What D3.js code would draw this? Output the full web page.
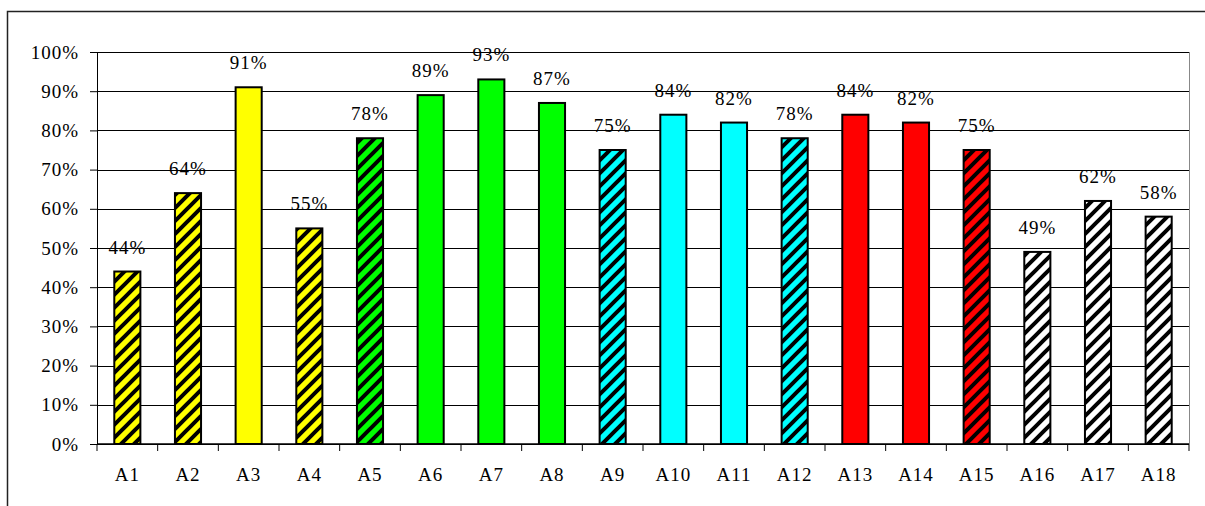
<!DOCTYPE html>
<html>
<head>
<meta charset="utf-8">
<script src="https://cdn.jsdelivr.net/npm/d3@7"></script>
<style>
  body { margin: 0; background: #fff; }
  text { font-family: "Liberation Serif", "Times New Roman", serif; font-size: 19px; letter-spacing: 1px; fill: #000; }
</style>
</head>
<body>
<div id="chart"></div>
<script>
// categories and values (percent)
var categories = ["A1","A2","A3","A4","A5","A6","A7","A8","A9","A10","A11","A12","A13","A14","A15","A16","A17","A18"];
var values = [44, 64, 91, 55, 78, 89, 93, 87, 75, 84, 82, 78, 84, 82, 75, 49, 62, 58];
var fills = ["#ffff00","#ffff00","#ffff00","#ffff00","#00ff00","#00ff00","#00ff00","#00ff00","#00ffff","#00ffff","#00ffff","#00ffff","#ff0000","#ff0000","#ff0000","#ffffff","#ffffff","#ffffff"];
var hatched = [true, true, false, true, true, false, false, false, true, false, false, true, false, false, true, true, true, true];
var yTicks = [0, 10, 20, 30, 40, 50, 60, 70, 80, 90, 100];

var w = 1205, h = 506;
var marges = {left: 97, right: 16, top: 52, bottom: 62};
var graf_w = w - marges.left - marges.right;
var graf_h = h - marges.top - marges.bottom;

var root = d3.select("#chart").append("svg")
    .attr("width", w)
    .attr("height", h);

// outer frame
root.append("path")
    .attr("d", "M7.5," + h + "V11.5H" + w)
    .attr("fill", "none")
    .attr("stroke", "#222")
    .attr("stroke-width", 1.5);

// hatch patterns, one per colour
var defs = root.append("defs");
var colours = Array.from(new Set(fills));
colours.forEach(function(c, i) {
    var p = defs.append("pattern")
        .attr("id", "hatch" + i)
        .attr("patternUnits", "userSpaceOnUse")
        .attr("width", 13)
        .attr("height", 13);
    p.append("rect").attr("width", 13).attr("height", 13).attr("fill", c);
    p.append("path")
        .attr("d", "M-3,3L3,-3M0,13L13,0M10,16L16,10")
        .attr("stroke", "#000")
        .attr("stroke-width", 4);
});

var svg = root.append("g")
    .attr("transform", "translate(" + marges.left + "," + marges.top + ")");

var x = d3.scaleBand()
    .domain(categories)
    .range([0, graf_w])
    .paddingInner(0.57)
    .paddingOuter(0.285);

var y = d3.scaleLinear()
    .domain([0, 100])
    .range([graf_h, 0]);

// gridlines
svg.append("g")
    .selectAll("line")
    .data(yTicks)
    .enter().append("line")
    .attr("x1", 0)
    .attr("x2", graf_w)
    .attr("y1", function(d) { return Math.round(y(d)) + 0.5; })
    .attr("y2", function(d) { return Math.round(y(d)) + 0.5; })
    .attr("stroke", "#000")
    .attr("stroke-width", 1);

// right edge of plot area
svg.append("line")
    .attr("x1", graf_w + 0.5).attr("x2", graf_w + 0.5)
    .attr("y1", 0).attr("y2", graf_h)
    .attr("stroke", "#888");

// <-- Y AXIS -------------
var yaxis = svg.append("g")
    .attr("class", "yaxis")
    .call(d3.axisLeft(y)
        .tickValues(yTicks)
        .tickSize(7)
        .tickPadding(11)
        .tickFormat(function(d) { return d + "%"; }));
yaxis.attr("font-size", null).attr("font-family", null);
yaxis.select(".domain").attr("stroke", "#000");
// -- Y AXIS ------------->

// <-- X AXIS -------------
var step = x.step();
var xaxis = svg.append("g")
    .attr("class", "xaxis")
    .attr("transform", "translate(0," + graf_h + ")");
xaxis.append("line")
    .attr("x1", 0).attr("x2", graf_w)
    .attr("stroke", "#000").attr("stroke-width", 1.5);
xaxis.selectAll(".tk")
    .data(d3.range(categories.length + 1))
    .enter().append("line")
    .attr("class", "tk")
    .attr("x1", function(i) { return i * step; })
    .attr("x2", function(i) { return i * step; })
    .attr("y1", 0).attr("y2", 7)
    .attr("stroke", "#000");
xaxis.selectAll("text")
    .data(categories)
    .enter().append("text")
    .attr("x", function(d) { return x(d) + x.bandwidth() / 2; })
    .attr("y", 37)
    .attr("text-anchor", "middle")
    .text(function(d) { return d; });
// -- X AXIS ------------->

var data = categories.map(function(c, i) {
    return {cat: c, val: values[i], fill: fills[i], hatch: hatched[i]};
});

// bars
svg.append("g")
    .selectAll("rect")
    .data(data)
    .enter().append("rect")
    .attr("x", function(d) { return x(d.cat); })
    .attr("y", function(d) { return y(d.val); })
    .attr("width", x.bandwidth())
    .attr("height", function(d) { return graf_h - y(d.val); })
    .attr("fill", function(d) { return d.hatch ? "url(#hatch" + colours.indexOf(d.fill) + ")" : d.fill; })
    .attr("stroke", "#000")
    .attr("stroke-width", 2);

// value labels
svg.append("g")
    .selectAll("text")
    .data(data)
    .enter().append("text")
    .attr("x", function(d) { return x(d.cat) + x.bandwidth() / 2; })
    .attr("y", function(d) { return y(d.val) - 18; })
    .attr("text-anchor", "middle")
    .text(function(d) { return d.val + "%"; });
</script>
</body>
</html>
